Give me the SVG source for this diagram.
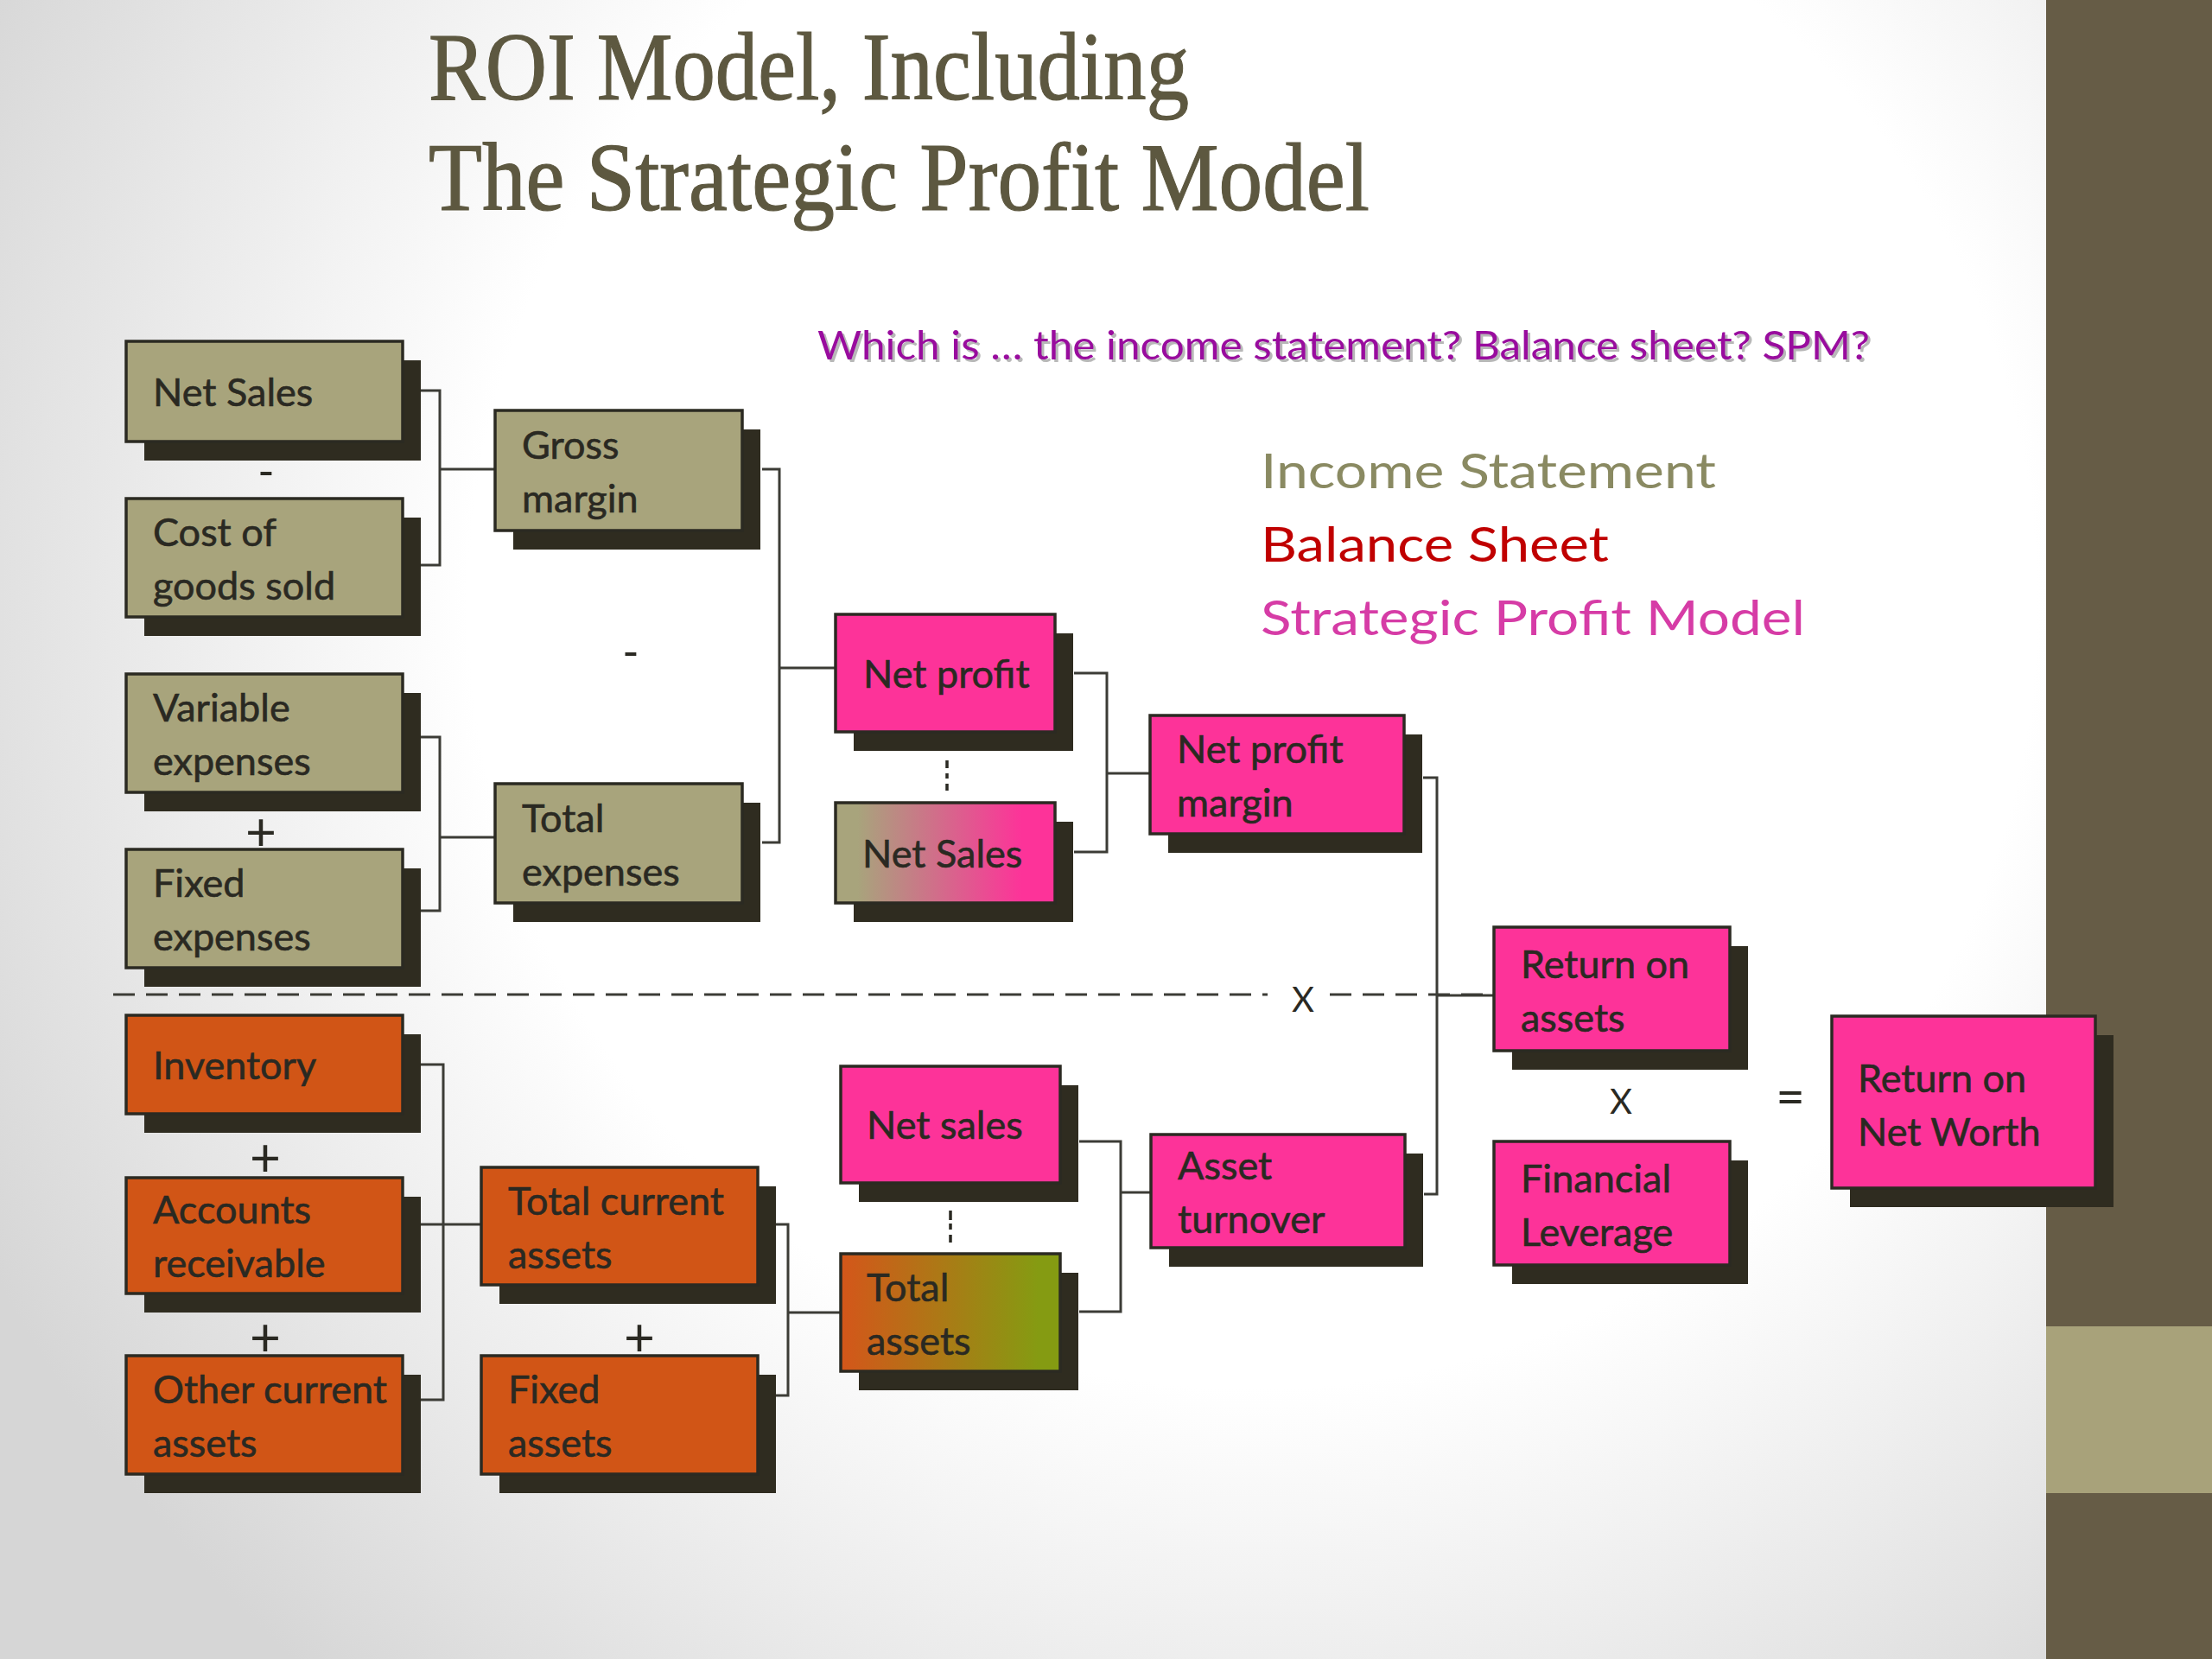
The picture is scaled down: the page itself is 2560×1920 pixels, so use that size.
<svg xmlns="http://www.w3.org/2000/svg" width="2560" height="1920" viewBox="0 0 2560 1920">
<defs>
<radialGradient id="bg" cx="1450" cy="700" r="1650" gradientUnits="userSpaceOnUse">
<stop offset="0" stop-color="#ffffff"/>
<stop offset="0.55" stop-color="#ffffff"/>
<stop offset="1" stop-color="#d6d6d6"/>
</radialGradient>
<linearGradient id="gOP" x1="0" y1="0" x2="1" y2="0">
<stop offset="0.1" stop-color="#a8a47c"/>
<stop offset="0.85" stop-color="#fd3399"/>
</linearGradient>
<linearGradient id="gOG" x1="0" y1="0" x2="1" y2="0">
<stop offset="0" stop-color="#d4561a"/>
<stop offset="0.9" stop-color="#859b12"/>
</linearGradient>
<style>
.sh{fill:#2f2c20}
.bx{stroke:#2b2a22;stroke-width:3.5}
.ol{fill:#a8a47c}
.pk{fill:#fd3399}
.or{fill:#d15516}
.lb{font-family:Lato,"Open Sans",sans-serif;font-size:45px;fill:#2a2922;stroke:#2a2922;stroke-width:0.6}
.op{font-family:Lato,"Open Sans",sans-serif;fill:#2a2922;text-anchor:middle}
.cn{fill:none;stroke:#3c3c36;stroke-width:3}
.dot{fill:none;stroke:#2a2922;stroke-width:3.5}
</style>
</defs>
<rect x="0" y="0" width="2560" height="1920" fill="url(#bg)"/>
<rect x="2368" y="0" width="192" height="1920" fill="#665c46"/>
<rect x="2368" y="1535" width="192" height="193" fill="#a8a27a"/>

<g id="title" font-family="'Liberation Serif',serif" font-size="112" fill="#5d5840" stroke="#5d5840" stroke-width="1.2">
<text x="496" y="115" textLength="880" lengthAdjust="spacingAndGlyphs">ROI Model, Including</text>
<text x="496" y="243" textLength="1089" lengthAdjust="spacingAndGlyphs">The Strategic Profit Model</text>
</g>

<g id="question" font-family="Lato,'Open Sans',sans-serif" font-size="47">
<text x="949" y="419" fill="#b8b8b8" textLength="1218" lengthAdjust="spacingAndGlyphs">Which is … the income statement? Balance sheet? SPM?</text>
<text x="946" y="416" fill="#990c9e" textLength="1218" lengthAdjust="spacingAndGlyphs">Which is … the income statement? Balance sheet? SPM?</text>
</g>

<g id="legend" font-family="Lato,'Open Sans',sans-serif" font-size="57">
<text x="1459" y="565" fill="#8a8a62" textLength="527" lengthAdjust="spacingAndGlyphs">Income Statement</text>
<text x="1459" y="650" fill="#c00000" textLength="403" lengthAdjust="spacingAndGlyphs">Balance Sheet</text>
<text x="1459" y="735" fill="#d63ca6" textLength="630" lengthAdjust="spacingAndGlyphs">Strategic Profit Model</text>
</g>

<g id="connectors">
<path class="cn" d="M487 452 H509 V654 H487 M509 543 H573"/>
<path class="cn" d="M487 853 H509 V1054 H487 M509 969 H573"/>
<path class="cn" d="M882 543 H902 V975 H882 M902 773 H967"/>
<path class="cn" d="M1243 779 H1281 V986 H1243 M1281 895 H1331"/>
<path class="cn" d="M1647 900 H1663 V1382 H1648 M1663 1152 H1729"/>
<path class="cn" d="M487 1232 H513 V1620 H487 M487 1417 H557"/>
<path class="cn" d="M898 1417 H912 V1615 H898 M912 1519 H973"/>
<path class="cn" d="M1249 1321 H1297 V1518 H1249 M1297 1380 H1332"/>
<path class="cn" d="M131 1151 H1467 M1539 1151 H1729" stroke-dasharray="25 13"/>
</g>

<g id="operators">
<text class="op" x="308" y="564" font-size="52">-</text>
<text class="op" x="730" y="773" font-size="52">-</text>
<text class="op" x="302" y="984" font-size="62">+</text>
<text class="op" x="307" y="1361" font-size="62">+</text>
<text class="op" x="307" y="1569" font-size="62">+</text>
<text class="op" x="740" y="1569" font-size="62">+</text>
<text class="op" x="1508" y="1171" font-size="40">X</text>
<text class="op" x="1876" y="1289" font-size="40">X</text>
<text class="op" x="2072" y="1290" font-size="58">=</text>
<path class="dot" d="M1096 880 V889 M1096 895 V901 M1096 907 V915"/>
<path class="dot" d="M1100 1401 V1412 M1100 1416 V1423 M1100 1429 V1438"/>
</g>

<g id="n-netsales">
<rect class="sh" x="167" y="417" width="320" height="116"/>
<rect class="bx ol" x="146" y="395" width="320" height="116"/>
<text class="lb" x="177" y="470">Net Sales</text>
</g>
<g id="n-cogs">
<rect class="sh" x="167" y="599" width="320" height="137"/>
<rect class="bx ol" x="146" y="577" width="320" height="137"/>
<text class="lb" x="177" y="632">Cost of</text>
<text class="lb" x="177" y="694">goods sold</text>
</g>
<g id="n-variable">
<rect class="sh" x="167" y="802" width="320" height="137"/>
<rect class="bx ol" x="146" y="780" width="320" height="137"/>
<text class="lb" x="177" y="835">Variable</text>
<text class="lb" x="177" y="897">expenses</text>
</g>
<g id="n-fixedexp">
<rect class="sh" x="167" y="1005" width="320" height="137"/>
<rect class="bx ol" x="146" y="983" width="320" height="137"/>
<text class="lb" x="177" y="1038">Fixed</text>
<text class="lb" x="177" y="1100">expenses</text>
</g>
<g id="n-grossmargin">
<rect class="sh" x="594" y="497" width="286" height="139"/>
<rect class="bx ol" x="573" y="475" width="286" height="139"/>
<text class="lb" x="604" y="531">Gross</text>
<text class="lb" x="604" y="593">margin</text>
</g>
<g id="n-totalexp">
<rect class="sh" x="594" y="929" width="286" height="138"/>
<rect class="bx ol" x="573" y="907" width="286" height="138"/>
<text class="lb" x="604" y="963">Total</text>
<text class="lb" x="604" y="1025">expenses</text>
</g>
<g id="n-netprofit">
<rect class="sh" x="988" y="733" width="254" height="136"/>
<rect class="bx pk" x="967" y="711" width="254" height="136"/>
<text class="lb" x="999" y="796">Net profit</text>
</g>
<g id="n-netsales2">
<rect class="sh" x="988" y="951" width="254" height="116"/>
<rect class="bx" fill="url(#gOP)" x="967" y="929" width="254" height="116"/>
<text class="lb" x="998" y="1004">Net Sales</text>
</g>
<g id="n-npm">
<rect class="sh" x="1352" y="850" width="294" height="137"/>
<rect class="bx pk" x="1331" y="828" width="294" height="137"/>
<text class="lb" x="1362" y="883">Net profit</text>
<text class="lb" x="1362" y="945">margin</text>
</g>
<g id="n-roa">
<rect class="sh" x="1750" y="1095" width="273" height="143"/>
<rect class="bx pk" x="1729" y="1073" width="273" height="143"/>
<text class="lb" x="1760" y="1132">Return on</text>
<text class="lb" x="1760" y="1194">assets</text>
</g>
<g id="n-fl">
<rect class="sh" x="1750" y="1343" width="273" height="143"/>
<rect class="bx pk" x="1729" y="1321" width="273" height="143"/>
<text class="lb" x="1760" y="1380">Financial</text>
<text class="lb" x="1760" y="1442">Leverage</text>
</g>
<g id="n-ronw">
<rect class="sh" x="2141" y="1198" width="305" height="199"/>
<rect class="bx pk" x="2120" y="1176" width="305" height="199"/>
<text class="lb" x="2150" y="1264">Return on</text>
<text class="lb" x="2150" y="1326">Net Worth</text>
</g>
<g id="n-inventory">
<rect class="sh" x="167" y="1197" width="320" height="114"/>
<rect class="bx or" x="146" y="1175" width="320" height="114"/>
<text class="lb" x="177" y="1249">Inventory</text>
</g>
<g id="n-ar">
<rect class="sh" x="167" y="1385" width="320" height="134"/>
<rect class="bx or" x="146" y="1363" width="320" height="134"/>
<text class="lb" x="177" y="1416">Accounts</text>
<text class="lb" x="177" y="1478">receivable</text>
</g>
<g id="n-oca">
<rect class="sh" x="167" y="1591" width="320" height="137"/>
<rect class="bx or" x="146" y="1569" width="320" height="137"/>
<text class="lb" x="177" y="1624">Other current</text>
<text class="lb" x="177" y="1686">assets</text>
</g>
<g id="n-tca">
<rect class="sh" x="578" y="1373" width="320" height="136"/>
<rect class="bx or" x="557" y="1351" width="320" height="136"/>
<text class="lb" x="588" y="1406">Total current</text>
<text class="lb" x="588" y="1468">assets</text>
</g>
<g id="n-fixedassets">
<rect class="sh" x="578" y="1591" width="320" height="137"/>
<rect class="bx or" x="557" y="1569" width="320" height="137"/>
<text class="lb" x="588" y="1624">Fixed</text>
<text class="lb" x="588" y="1686">assets</text>
</g>
<g id="n-netsales3">
<rect class="sh" x="994" y="1256" width="254" height="135"/>
<rect class="bx pk" x="973" y="1234" width="254" height="135"/>
<text class="lb" x="1003" y="1318">Net sales</text>
</g>
<g id="n-totalassets">
<rect class="sh" x="994" y="1473" width="254" height="136"/>
<rect class="bx" fill="url(#gOG)" x="973" y="1451" width="254" height="136"/>
<text class="lb" x="1003" y="1506">Total</text>
<text class="lb" x="1003" y="1568">assets</text>
</g>
<g id="n-assetturnover">
<rect class="sh" x="1353" y="1335" width="294" height="131"/>
<rect class="bx pk" x="1332" y="1313" width="294" height="131"/>
<text class="lb" x="1363" y="1365">Asset</text>
<text class="lb" x="1363" y="1427">turnover</text>
</g>
</svg>
